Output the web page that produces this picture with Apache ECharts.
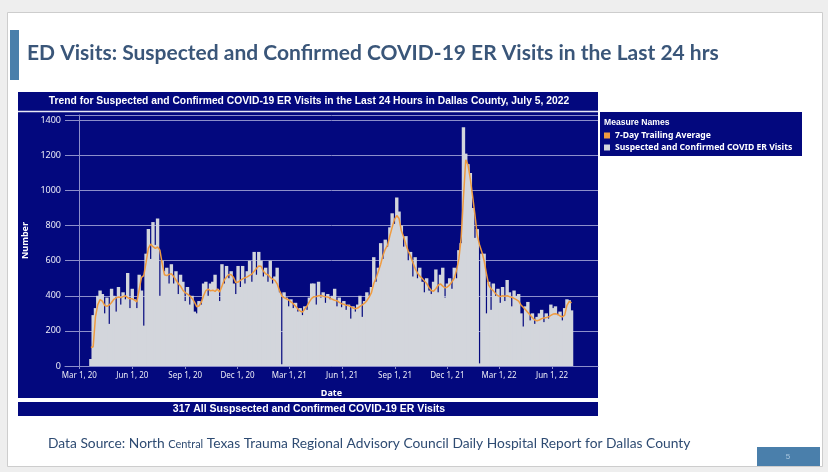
<!DOCTYPE html>
<html>
<head>
<meta charset="utf-8">
<style>
  html, body { margin: 0; padding: 0; background: #fff; }
  #chart { width: 828px; height: 472px; }
</style>
<script src="https://cdn.jsdelivr.net/npm/echarts@6/dist/echarts.min.js"></script>
</head>
<body>
<div id="chart"></div>
<script>
// one reading every 4 days, first one on Mar 21, 2020, last one on Jul 5, 2022
const firstDate = '2020-03-21';
const stepDays = 4;

const tickDates = ['2020-03-01', '2020-06-01', '2020-09-01', '2020-12-01', '2021-03-01',
                   '2021-06-01', '2021-09-01', '2021-12-01', '2022-03-01', '2022-06-01'];
const tickLabels = ['Mar 1, 20', 'Jun 1, 20', 'Sep 1, 20', 'Dec 1, 20', 'Mar 1, 21',
                    'Jun 1, 21', 'Sep 1, 21', 'Dec 1, 21', 'Mar 1, 22', 'Jun 1, 22'];

// Suspected and Confirmed COVID ER Visits
const visits2020 = [
  40, 290, 330, 400, 430, 410, 300, 390, 240, 440,
  400, 310, 450, 350, 420, 380, 530, 330, 440, 380,
  330, 520, 430, 230, 640, 780, 610, 820, 690, 840,
  400, 600, 540, 560, 470, 580, 470, 540, 410, 520,
  480, 370, 450, 350, 400, 310, 300, 370, 350, 470,
  480, 400, 470, 480, 520, 440, 370, 580, 470, 570,
  500, 540, 470, 410, 570, 450, 570, 470, 540, 600,
  480, 650
];
const visits2021 = [
  520, 650, 600, 510, 560, 480, 600, 470, 510, 560,
  420, 10, 420, 390, 340, 380, 330, 360, 310, 330,
  290, 340, 320, 390, 470, 470, 350, 480, 390, 420,
  360, 410, 380, 400, 440, 340, 390, 335, 370, 320,
  350, 270, 340, 310, 350, 400, 280, 370, 420, 400,
  450, 620, 480, 560, 700, 610, 720, 680, 790, 870,
  810, 960, 880, 800, 680, 740, 600, 650, 510, 620,
  500, 560, 480, 420, 500, 430, 410, 480, 550, 420,
  520, 560, 390, 470, 500, 440, 560, 500, 660, 700,
  1360
];
const visits2022 = [
  1210, 1150, 1100, 900, 730, 780, 15, 640, 640, 300,
  480, 320, 470, 400, 440, 360, 450, 370, 490, 420,
  340, 430, 400, 410, 300, 225, 340, 365, 260, 300,
  240, 280, 300, 320, 250, 300, 270, 350, 330, 340,
  290, 310, 260, 330, 380, 375, 317
];

// 7-Day Trailing Average
const avg2020 = [
  105, 110, 280, 350, 378, 370, 345, 340, 348, 362,
  380, 388, 393, 390, 395, 400, 390, 383, 383, 375,
  365, 435, 505, 515, 590, 670, 695, 680, 670, 678,
  660, 585, 520, 515, 522, 525, 510, 490, 470, 455,
  432, 418, 410, 400, 385, 365, 338, 342, 362, 400,
  430, 438, 428, 432, 425, 438, 422, 455, 490, 507,
  522, 520, 505, 475, 478, 488, 496, 503, 508, 516,
  524, 540
];
const avg2021 = [
  555, 570, 568, 540, 525, 520, 505, 495, 488, 468,
  430, 400, 390, 383, 376, 365, 355, 340, 325, 313,
  307, 325, 342, 365, 385, 395, 396, 400, 402, 398,
  395, 393, 387, 380, 374, 372, 362, 355, 352, 346,
  344, 338, 330, 326, 330, 340, 348, 358, 372, 392,
  418, 470, 500, 540, 580, 630, 665, 688, 742, 790,
  835, 857, 840, 770, 735, 690, 655, 625, 590, 555,
  530, 512, 500, 485, 470, 448, 430, 426, 440, 460,
  468, 455, 445, 450, 462, 480, 500, 545, 610, 730,
  960
];
const avg2022 = [
  1175, 1145, 1065, 965, 860, 745, 690, 650, 600, 525,
  460, 440, 428, 412, 400, 395, 400, 398, 400, 395,
  392, 385, 378, 370, 348, 335, 320, 305, 290, 275,
  262, 258, 262, 270, 274, 276, 280, 288, 296, 298,
  294, 285, 280, 290, 345, 368, 360
];

const NAVY = '#03087e';

// x is counted in days from Mar 1, 2020
function dayOf(s) {
  const [y, m, d] = s.split('-').map(Number);
  return Math.round((Date.UTC(y, m - 1, d) - Date.UTC(2020, 2, 1)) / 86400000);
}

const visits = visits2020.concat(visits2021, visits2022);
const avg = avg2020.concat(avg2021, avg2022);
const day0 = dayOf(firstDate);
const visitData = visits.map((v, i) => [day0 + i * stepDays, v]);
const avgData = avg.map((v, i) => [day0 + i * stepDays, v]);
const tickDays = tickDates.map(dayOf);
const latest = visits[visits.length - 1];

const chart = echarts.init(document.getElementById('chart'));

chart.setOption({
  animation: false,
  textStyle: { fontFamily: 'Noto Sans' },
  graphic: [
    { type: 'rect', z: -10, shape: { x: 0, y: 0, width: 828, height: 472 }, style: { fill: '#eeeeee' } },
    { type: 'rect', z: -9, shape: { x: 7.5, y: 12.5, width: 815, height: 454 },
      style: { fill: '#ffffff', stroke: '#cdcdcd', lineWidth: 1 } },
    { type: 'rect', z: -8, shape: { x: 10, y: 30, width: 9, height: 50 }, style: { fill: '#4a7fab' } },
    { type: 'text', z: 10, x: 27, y: 53,
      style: { text: 'ED Visits: Suspected and Confirmed COVID-19 ER Visits in the Last 24 hrs',
               fill: '#3a5679', fontSize: 21, fontWeight: 'bold', fontFamily: 'Lato', verticalAlign: 'middle' } },

    // chart panel
    { type: 'rect', z: -8, shape: { x: 18, y: 92, width: 580, height: 306 }, style: { fill: NAVY } },
    { type: 'line', z: -7, shape: { x1: 18, y1: 111.5, x2: 598, y2: 111.5 }, style: { stroke: '#e8e8f4', lineWidth: 1.5 } },
    { type: 'text', z: 10, x: 309, y: 101.5,
      style: { text: 'Trend for Suspected and Confirmed COVID-19 ER Visits in the Last 24 Hours in Dallas County, July 5, 2022',
               fill: '#ffffff', fontSize: 10.3, fontWeight: 'bold', align: 'center', verticalAlign: 'middle' } },

    // legend box
    { type: 'rect', z: -8, shape: { x: 600, y: 112, width: 202, height: 44 }, style: { fill: NAVY } },
    { type: 'text', z: 10, x: 604, y: 123,
      style: { text: 'Measure Names', fill: '#ffffff', fontSize: 8.6, fontWeight: 'bold', verticalAlign: 'middle' } },

    // banner
    { type: 'rect', z: -8, shape: { x: 18, y: 402, width: 580, height: 14 }, style: { fill: NAVY } },
    { type: 'text', z: 10, x: 309, y: 409,
      style: { text: latest + ' All Suspsected and Confirmed COVID-19 ER Visits',
               fill: '#ffffff', fontSize: 10.5, fontWeight: 'bold', align: 'center', verticalAlign: 'middle' } },

    // footer
    { type: 'text', z: 10, x: 48, y: 444,
      style: { text: '{a|Data Source: North }{b|Central}{a| Texas Trauma Regional Advisory Council Daily Hospital Report for Dallas County}',
               verticalAlign: 'middle',
               rich: { a: { fill: '#2e4b72', fontSize: 13.8, fontFamily: 'Lato' },
                       b: { fill: '#2e4b72', fontSize: 11, fontFamily: 'Lato' } } } },
    { type: 'rect', z: -8, shape: { x: 757, y: 447, width: 63, height: 19 }, style: { fill: '#4a7fab' } },
    { type: 'text', z: 10, x: 788, y: 456.5,
      style: { text: '5', fill: '#a9c6de', fontSize: 8, align: 'center', verticalAlign: 'middle' } }
  ],
  legend: {
    orient: 'vertical',
    left: 604,
    top: 131,
    padding: 0,
    itemWidth: 6,
    itemHeight: 6,
    itemGap: 3,
    icon: 'rect',
    data: ['7-Day Trailing Average', 'Suspected and Confirmed COVID ER Visits'],
    textStyle: { color: '#ffffff', fontSize: 8.6, fontWeight: 'bold' }
  },
  grid: {
    left: 65, right: 230, top: 115, bottom: 106,
    containLabel: false, outerBoundsMode: 'none'
  },
  xAxis: {
    type: 'value',
    min: -25,
    max: 902,
    name: 'Date',
    nameLocation: 'middle',
    nameGap: 23,
    nameTextStyle: { color: '#ffffff', fontSize: 9, fontWeight: 'bold' },
    axisLine: { lineStyle: { color: '#8d8fcb' } },
    axisTick: { show: true, customValues: tickDays, length: 3, lineStyle: { color: '#8d8fcb' } },
    axisLabel: {
      customValues: tickDays,
      color: '#ececf6',
      fontSize: 8,
      margin: 6,
      formatter: v => tickLabels[tickDays.indexOf(v)]
    },
    splitLine: { show: false }
  },
  yAxis: {
    type: 'value',
    min: 0,
    max: 1430,
    interval: 200,
    name: 'Number',
    nameLocation: 'middle',
    nameGap: 29,
    nameRotate: 90,
    nameTextStyle: { color: '#ffffff', fontSize: 9, fontWeight: 'bold' },
    axisLine: { show: true, lineStyle: { color: '#8d8fcb' } },
    axisTick: { show: false },
    axisLabel: { color: '#ececf6', fontSize: 9, margin: 4, showMaxLabel: false, formatter: v => String(v) },
    splitLine: { lineStyle: { color: '#8d8fcb', width: 1 } }
  },
  series: [
    {
      name: 'Suspected and Confirmed COVID ER Visits',
      type: 'bar',
      data: visitData,
      barWidth: 3.4,
      itemStyle: { color: '#d3d6dc' },
      z: 2
    },
    {
      name: '7-Day Trailing Average',
      type: 'line',
      data: avgData,
      showSymbol: false,
      lineStyle: { color: '#ef9b40', width: 1.5 },
      itemStyle: { color: '#ef9b40' },
      z: 3
    }
  ]
});
</script>
</body>
</html>
